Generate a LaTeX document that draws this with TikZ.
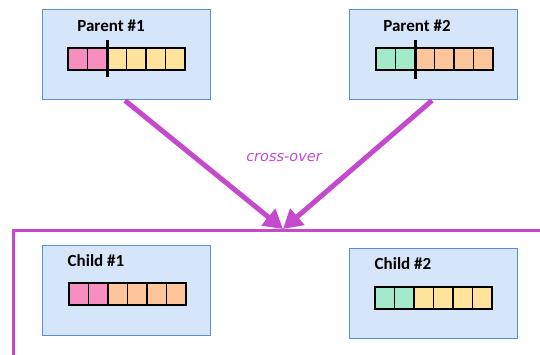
\documentclass[tikz,border=0pt]{standalone}
\usepackage{fontspec}
\setmainfont{Carlito}
\newfontfamily\notefont{DejaVu Sans}
\usetikzlibrary{arrows.meta}

\definecolor{boxfill}{HTML}{D6E6FA}
\definecolor{boxline}{HTML}{5A8FD2}
\definecolor{pk}{HTML}{F78EC0}
\definecolor{yl}{HTML}{FFE39A}
\definecolor{gr}{HTML}{A2EACA}
\definecolor{og}{HTML}{FFC59A}
\definecolor{xo}{HTML}{C549CC}

\begin{document}
\begin{tikzpicture}[x=1pt, y=-1pt,
    pool/.style={draw=boxline, fill=boxfill, line width=1pt, minimum width=168pt, minimum height=90pt, inner sep=0pt},
    title/.style={font=\fontsize{17}{20}\selectfont\bfseries, inner sep=0pt},
    gene/.style={draw=black, line width=1.6pt, minimum width=19.5pt, minimum height=22pt, inner sep=0pt, anchor=north west},
    cut/.style={line width=2.6pt},
    xover/.style={draw=xo, line width=5pt, -{Triangle[length=19pt,width=21pt]}}]
        \useasboundingbox (0,0) rectangle (540,355);

        % parents and children
        \node[pool] (p1) at (126,55) {};
        \node[pool] (p2) at (433.5,55) {};
        \node[pool] (c1) at (126.5,290) {};
        \node[pool] (c2) at (433.5,293.5) {};

        \node[title] (p1t) at (111,26) {Parent \#1};
        \node[title] (p2t) at (417,26) {Parent \#2};
        \node[title] (c1t) at (96,261) {Child \#1};
        \node[title] (c2t) at (403,264) {Child \#2};

        % chromosomes
        \foreach \i/\c in {0/pk,1/pk,2/yl,3/yl,4/yl,5/yl}
            \node[gene, fill=\c] (p1g\i) at (67+19.5*\i,47) {};
        \foreach \i/\c in {0/gr,1/gr,2/og,3/og,4/og,5/og}
            \node[gene, fill=\c] (p2g\i) at (375+19.5*\i,47) {};
        \foreach \i/\c in {0/pk,1/pk,2/og,3/og,4/og,5/og}
            \node[gene, fill=\c] (c1g\i) at (68+19.5*\i,282) {};
        \foreach \i/\c in {0/gr,1/gr,2/yl,3/yl,4/yl,5/yl}
            \node[gene, fill=\c] (c2g\i) at (374+19.5*\i,286) {};

        % cut points
        \draw[cut] ([yshift=7pt]p1g1.north east) -- ([yshift=-6pt]p1g1.south east);
        \draw[cut] ([yshift=7pt]p2g1.north east) -- ([yshift=-8pt]p2g1.south east);

        % offspring frame
        \coordinate (fl) at (13,360);
        \coordinate (fr) at (545,230);
        \draw[xo, line width=3pt] (fl) |- (fr);

        \coordinate (meet) at (283,229);
        \draw[xover] ([xshift=-1pt]p1.south) -- (meet);
        \draw[xover] ([xshift=-1.5pt]p2.south) -- (meet);

        \node[text=xo, font=\notefont\itshape\fontsize{14.5}{17}\selectfont] (xlabel) at (284,158) {cross-over};
      \end{tikzpicture}
\end{document}
